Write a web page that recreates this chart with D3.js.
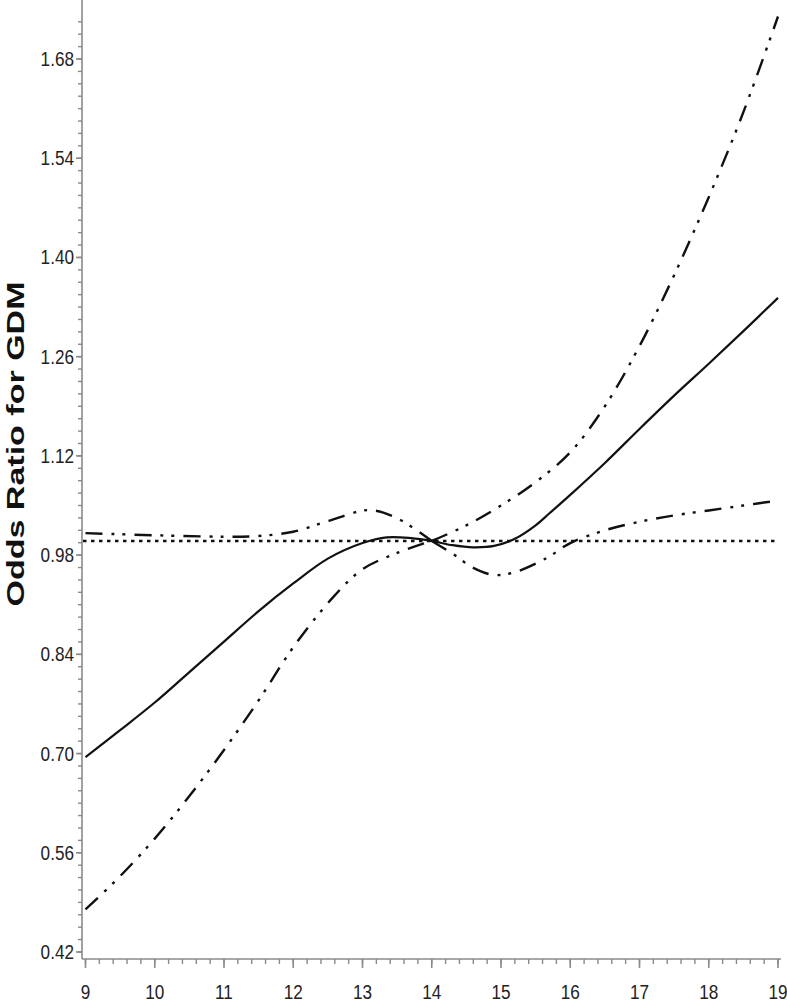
<!DOCTYPE html>
<html>
<head>
<meta charset="utf-8">
<script src="https://cdn.jsdelivr.net/npm/d3@7"></script>
<style>
  html, body { margin: 0; padding: 0; background: #fff; }
  svg { display: block; }
</style>
</head>
<body>
<div id="chart"></div>
<script>
// ---- data ----
const xTicks = [9, 10, 11, 12, 13, 14, 15, 16, 17, 18, 19];
const yTicks = [0.42, 0.56, 0.70, 0.84, 0.98, 1.12, 1.26, 1.40, 1.54, 1.68];

// odds ratio (solid)
const orX = [9, 9.5, 10, 10.5, 11, 11.5, 12, 12.5, 13, 13.35, 13.7, 14, 14.3, 14.6, 14.9, 15.2, 15.5, 15.7, 16, 16.5, 17, 17.5, 18, 18.5, 19];
const orY = [0.695, 0.733, 0.772, 0.815, 0.858, 0.901, 0.940, 0.975, 0.997, 1.005, 1.004, 1.000, 0.994, 0.991, 0.993, 1.003, 1.022, 1.039, 1.065, 1.110, 1.158, 1.205, 1.250, 1.296, 1.343];

// confidence limits (dash-dot-dot), pinched at the reference value 14
const loX = [9, 9.5, 10, 10.5, 11, 11.5, 12, 12.57, 13, 13.5, 14, 14.3, 14.6, 14.9, 15.2, 15.66, 16, 16.5, 17, 17.5, 18, 18.5, 19];
const loY = [0.480, 0.527, 0.580, 0.640, 0.705, 0.775, 0.850, 0.920, 0.960, 0.983, 1.000, 0.982, 0.962, 0.952, 0.956, 0.976, 0.997, 1.015, 1.027, 1.036, 1.043, 1.050, 1.057];
const hiX = [9, 10, 11, 11.5, 12, 12.5, 13.1, 13.5, 14, 14.5, 15, 15.5, 16, 16.5, 17, 17.5, 18, 18.5, 19];
const hiY = [1.011, 1.008, 1.006, 1.007, 1.013, 1.028, 1.0435, 1.032, 1.000, 1.022, 1.050, 1.083, 1.125, 1.190, 1.275, 1.375, 1.485, 1.605, 1.740];

const refValue = 1.0;
const knot = 14;

// ---- layout ----
const W = 787, H = 1003;
const axisX = 82, axisY = 959;

const svg = d3.select('#chart').append('svg')
  .attr('width', W).attr('height', H)
  .style('font-family', '"Liberation Sans", Arial, Helvetica, sans-serif');

const x = d3.scaleLinear().domain([9, 19]).range([85.5, 778]);
const y = d3.scaleLinear().domain([0.42, 1.68]).range([952, 59]);

const axisColor = '#8a8a8a';
const inkColor = '#111';

// ---- y axis ----
const gy = svg.append('g');
gy.append('line')
  .attr('x1', axisX).attr('x2', axisX)
  .attr('y1', 0).attr('y2', axisY)
  .attr('stroke', axisColor).attr('stroke-width', 1.6);

const yMinor = d3.range(0, 76).map(i => 0.42 + i * 0.0175).filter(v => y(v) > 2);
gy.selectAll('line.minor').data(yMinor).join('line')
  .attr('class', 'minor')
  .attr('x1', axisX - 4).attr('x2', axisX)
  .attr('y1', d => y(d)).attr('y2', d => y(d))
  .attr('stroke', axisColor).attr('stroke-width', 1.4);
gy.selectAll('line.major').data(yTicks).join('line')
  .attr('class', 'major')
  .attr('x1', axisX - 6).attr('x2', axisX)
  .attr('y1', d => y(d)).attr('y2', d => y(d))
  .attr('stroke', axisColor).attr('stroke-width', 1.6);
gy.selectAll('text').data(yTicks).join('text')
  .attr('transform', d => `translate(74,${y(d) + 7}) scale(0.88,1)`)
  .attr('text-anchor', 'end')
  .attr('font-size', 19.5)
  .attr('fill', '#222')
  .text(d => d.toFixed(2));

// ---- x axis ----
const gx = svg.append('g');
gx.append('line')
  .attr('x1', axisX).attr('x2', 781)
  .attr('y1', axisY).attr('y2', axisY)
  .attr('stroke', axisColor).attr('stroke-width', 1.6);
const xMinor = d3.range(0, 51).map(i => 9 + i * 0.2);
gx.selectAll('line.minor').data(xMinor).join('line')
  .attr('class', 'minor')
  .attr('x1', d => x(d)).attr('x2', d => x(d))
  .attr('y1', axisY).attr('y2', axisY + 5)
  .attr('stroke', axisColor).attr('stroke-width', 1.4);
gx.selectAll('line.major').data(xTicks).join('line')
  .attr('class', 'major')
  .attr('x1', d => x(d)).attr('x2', d => x(d))
  .attr('y1', axisY).attr('y2', axisY + 9)
  .attr('stroke', axisColor).attr('stroke-width', 1.6);
gx.selectAll('text').data(xTicks).join('text')
  .attr('transform', d => `translate(${x(d)},999) scale(0.88,1)`)
  .attr('text-anchor', 'middle')
  .attr('font-size', 19.5)
  .attr('fill', '#222')
  .text(d => d);

// ---- y axis title ----
svg.append('text')
  .attr('transform', 'translate(24,444) rotate(-90)')
  .attr('text-anchor', 'middle')
  .attr('font-size', 23)
  .attr('font-weight', 'bold')
  .attr('fill', '#111')
  .attr('textLength', 325)
  .attr('lengthAdjust', 'spacingAndGlyphs')
  .text('Odds Ratio for GDM');

// ---- curves ----
const line = d3.line().x(d => x(d[0])).y(d => y(d[1])).curve(d3.curveCatmullRom.alpha(0.5));
const zip = (xs, ys) => xs.map((v, i) => [v, ys[i]]);

// reference line at OR = 1
svg.append('line')
  .attr('x1', axisX + 1).attr('x2', x(19))
  .attr('y1', y(refValue)).attr('y2', y(refValue))
  .attr('stroke', inkColor).attr('stroke-width', 2.4)
  .attr('stroke-dasharray', '3.5,4.5');

// confidence limits drawn in two pieces each, split at the knot
[zip(loX, loY), zip(hiX, hiY)].forEach(pts => {
  const left = pts.filter(p => p[0] <= knot);
  const right = pts.filter(p => p[0] >= knot);
  [left, right].forEach(seg => {
    svg.append('path')
      .attr('d', line(seg))
      .attr('fill', 'none')
      .attr('stroke', inkColor).attr('stroke-width', 2.4)
      .attr('stroke-dasharray', '17,9,3,8,3,9');
  });
});

svg.append('path')
  .attr('d', line(zip(orX, orY)))
  .attr('fill', 'none')
  .attr('stroke', inkColor).attr('stroke-width', 2.2);
</script>
</body>
</html>
